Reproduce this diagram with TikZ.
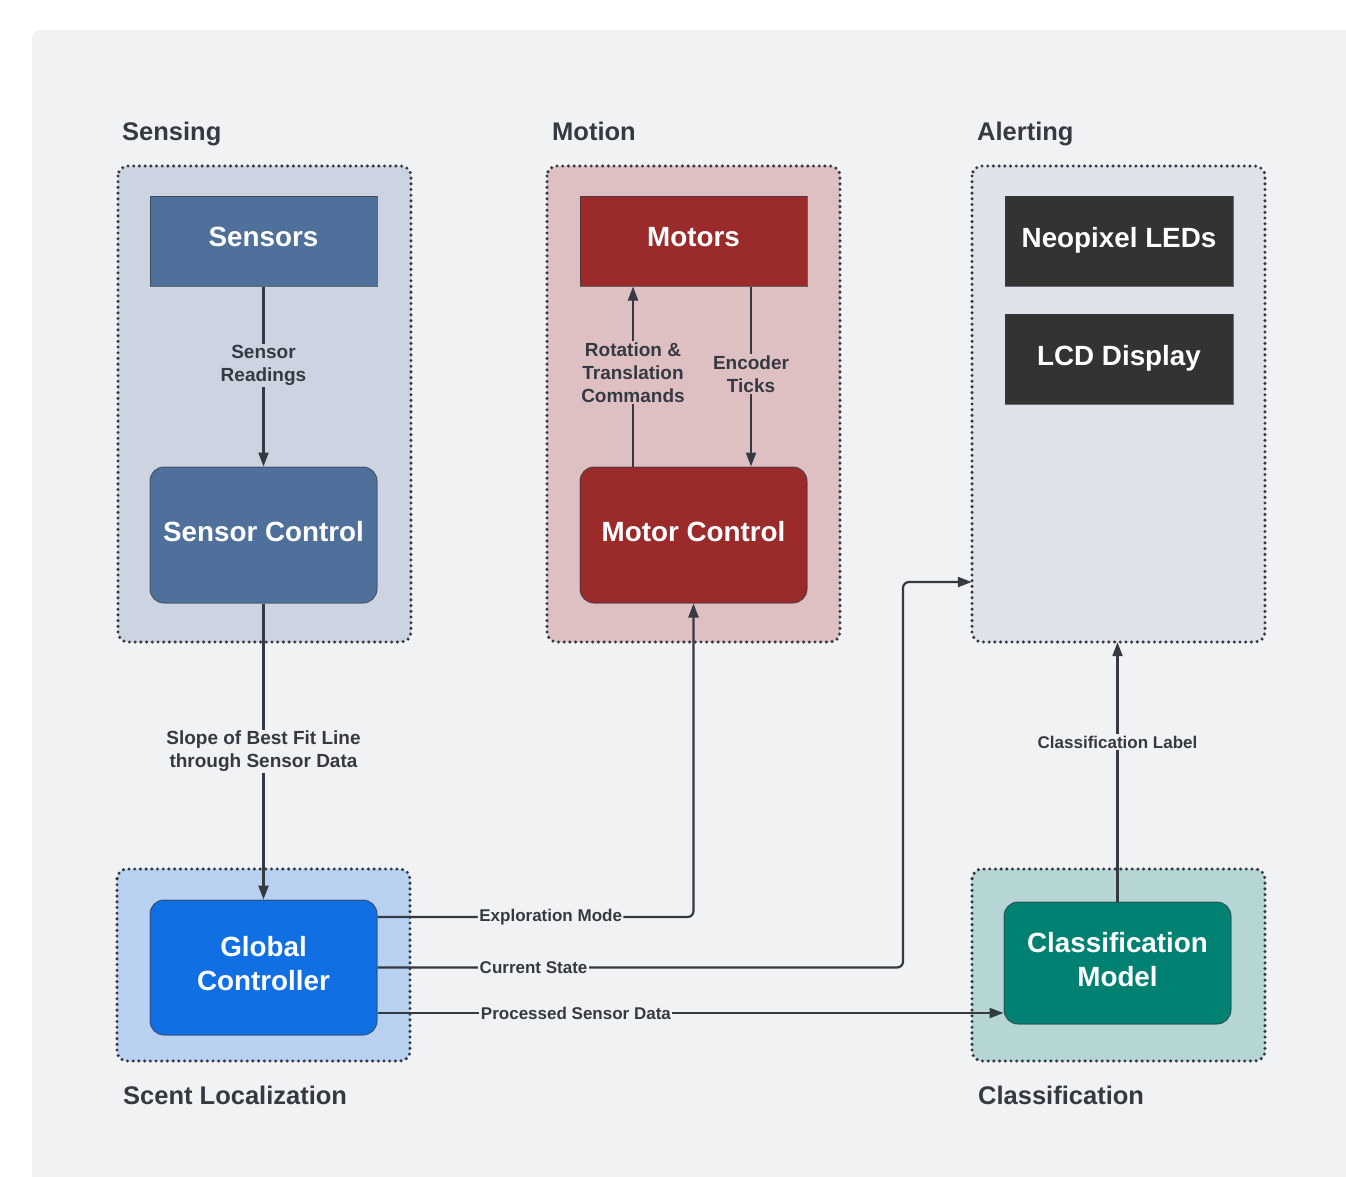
\documentclass[tikz,border=0pt]{standalone}
\usepackage{fontspec}
\setmainfont{Liberation Sans}
\usetikzlibrary{arrows.meta,calc}
\definecolor{canvas}{HTML}{F1F2F4}
\definecolor{ink}{HTML}{353942}
\definecolor{sensgrp}{HTML}{CCD4E1}
\definecolor{sensbox}{HTML}{50709C}
\definecolor{motgrp}{HTML}{DEC0C3}
\definecolor{motbox}{HTML}{9B2A2B}
\definecolor{alertgrp}{HTML}{DFE2E8}
\definecolor{darkbox}{HTML}{333333}
\definecolor{scentgrp}{HTML}{B8D1F0}
\definecolor{globbox}{HTML}{0F6FE3}
\definecolor{classgrp}{HTML}{B5D6D5}
\definecolor{classbox}{HTML}{008171}
\tikzset{
  grp/.style={draw=ink, line width=3.4pt, dash pattern=on 0pt off 5.7pt, line cap=round, rounded corners=10pt},
  sqbox/.style={draw=ink, draw opacity=0.7, line width=1pt, minimum width=227pt, minimum height=90pt, inner sep=0pt, text depth=8pt, text=white, align=center, font=\fontsize{27.8}{34}\selectfont\bfseries},
  rbox/.style={sqbox, rounded corners=14pt},
  title/.style={anchor=base west, inner sep=0pt, text=ink, font=\fontsize{25.5}{30}\selectfont\bfseries},
  lbl/.style={inner sep=1.5pt, text=ink, align=center, font=\fontsize{19}{23}\selectfont\bfseries},
  slbl/.style={lbl, font=\fontsize{17}{21}\selectfont\bfseries},
  conn/.style={draw=ink, line width=2.2pt, -{Triangle[length=14pt,width=10pt]}},
}
\begin{document}
\begin{tikzpicture}[x=1pt,y=-1pt]
\useasboundingbox (0,0) rectangle (1346,1176);
\fill[white] (0,0) rectangle (1346,1176);
\fill[canvas, rounded corners=8pt] (32,30) rectangle (1360,1190);

% groups
\draw[grp, fill=sensgrp] (118,166) rectangle (411,642);
\draw[grp, fill=motgrp] (547,166) rectangle (840,642);
\draw[grp, fill=alertgrp] (972,166) rectangle (1265,642);
\node[inner sep=0pt, minimum width=293pt, minimum height=476pt] (al) at (1118.5,404) {};
\draw[grp, fill=scentgrp] (117,869) rectangle (410,1061);
\draw[grp, fill=classgrp] (972,869) rectangle (1265,1061);

% titles
\node[title] (tsens) at (122,140.5) {Sensing};
\node[title] (tmot) at (552,140.5) {Motion};
\node[title] (talert) at (977,140.5) {Alerting};
\node[title] (tscent) at (123,1104.5) {Scent Localization};
\node[title] (tclass) at (978,1104.5) {Classification};

% boxes
\node[sqbox, fill=sensbox] (se) at (263.5,241) {Sensors};
\node[rbox, fill=sensbox, minimum height=136pt] (sc) at (263.5,535) {Sensor Control};
\node[sqbox, fill=motbox] (mo) at (693.5,241) {Motors};
\node[rbox, fill=motbox, minimum height=136pt] (mc) at (693.5,535) {Motor Control};
\node[sqbox, fill=darkbox, minimum width=228pt] (neo) at (1119,241) {Neopixel LEDs};
\node[sqbox, fill=darkbox, minimum width=228pt] (lcd) at (1119,359) {LCD Display};
\node[rbox, fill=globbox, minimum height=135pt] (gc) at (263.5,967.5) {Global\\Controller};
\node[rbox, fill=classbox, minimum height=122pt] (cm) at (1117.5,963) {Classification\\Model};

% connectors
\draw[conn] (se.south) -- node[lbl, fill=sensgrp, pos=0.44] {Sensor\\Readings} (sc.north);
\draw[conn] ([xshift=-60.5pt]mc.north) -- node[lbl, fill=motgrp, pos=0.52] {Rotation \&\\Translation\\Commands} ([xshift=-60.5pt]mo.south);
\draw[conn] ([xshift=57.5pt]mo.south) -- node[lbl, fill=motgrp, pos=0.485] {Encoder\\Ticks} ([xshift=57.5pt]mc.north);
\draw[conn] (sc.south) -- node[lbl, fill=canvas, pos=0.5] {Slope of Best Fit Line\\through Sensor Data} (gc.north);

\coordinate (em) at ([yshift=50.5pt]gc.east);
\coordinate (emc) at (em -| mc.south);
\draw[conn, rounded corners=6pt] (em) -- node[slbl, fill=canvas, pos=0.548] {Exploration Mode} (emc) -- (mc.south);

\coordinate (csb) at (903,967.5);
\coordinate (cse) at (al.west |- 0,582);
\draw[conn, rounded corners=6pt] (gc.east) -- node[slbl, fill=canvas, pos=0.297] {Current State} (csb) |- (cse);

\coordinate (pd) at ([yshift=-45.5pt]gc.east);
\draw[conn] (pd) -- node[slbl, fill=canvas, pos=0.317] {Processed Sensor Data} (pd -| cm.west);

\draw[conn] (cm.north) -- node[slbl, fill=canvas, pos=0.615] {Classification Label} (cm.north |- al.south);
\end{tikzpicture}
\end{document}
